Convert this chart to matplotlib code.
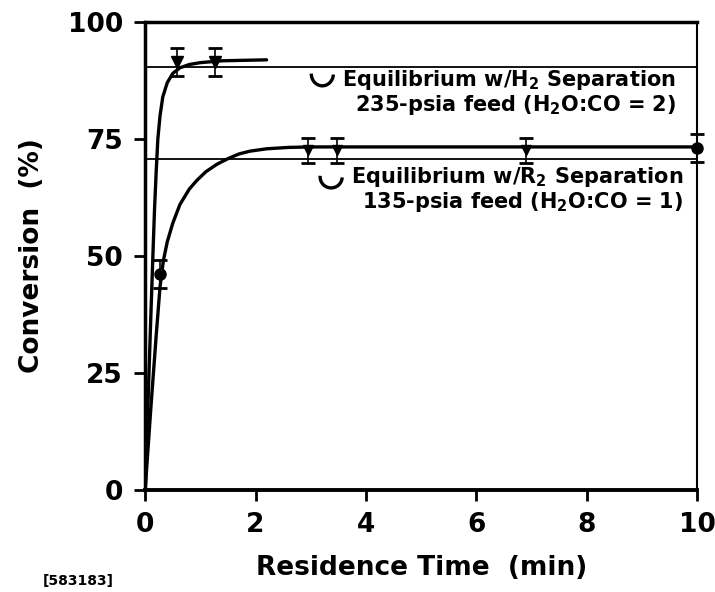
import numpy as np
import matplotlib.pyplot as plt
from matplotlib.patches import Arc

# fitted curves
t_235 = [0.0, 0.05, 0.1, 0.14, 0.17, 0.2, 0.23, 0.27, 0.32, 0.4, 0.5, 0.63, 0.8, 1.0, 1.4, 2.2]
x_235 = [0.0, 18.0, 36.0, 50.0, 60.0, 68.0, 75.0, 80.0, 84.0, 87.0, 89.0, 90.2, 90.9, 91.3, 91.7, 91.9]

t_135 = [0.0, 0.1, 0.2, 0.27, 0.33, 0.4, 0.5, 0.63, 0.8, 0.94, 1.1, 1.3, 1.5, 1.7, 1.9, 2.2, 2.6, 3.0, 10.0]
x_135 = [0.0, 17.0, 33.0, 43.5, 49.0, 53.0, 57.0, 61.0, 64.3, 66.2, 68.0, 69.6, 70.8, 71.8, 72.4, 72.9, 73.2, 73.3, 73.3]

# measured points
pt_235_t = [0.57, 1.27]
pt_235_x = [91.5, 91.5]
pt_235_err = [3.0, 3.0]

pt_135_t = [2.95, 3.47, 6.9]
pt_135_x = [72.6, 72.6, 72.6]
pt_135_err = [2.7, 2.7, 2.7]

circ_t = [0.27, 10.0]
circ_x = [46.2, 73.0]
circ_err = [3.0, 3.0]

eq_235 = 90.3
eq_135 = 70.7

fig = plt.figure(figsize=(7.15, 5.92), dpi=100)
ax = fig.add_axes([0.203, 0.172, 0.772, 0.791])

ax.axhline(eq_235, color='black', lw=1.3)
ax.axhline(eq_135, color='black', lw=1.3)

ax.plot(t_235, x_235, color='black', lw=2.4, solid_capstyle='round', solid_joinstyle='round')
ax.plot(t_135, x_135, color='black', lw=2.4, solid_capstyle='round', solid_joinstyle='round')

ax.errorbar(pt_235_t, pt_235_x, yerr=pt_235_err, fmt='v', color='black',
            ms=8, capsize=5, capthick=2, elinewidth=1.2)
ax.errorbar(pt_135_t, pt_135_x, yerr=pt_135_err, fmt='v', color='black',
            ms=7, capsize=5, capthick=2, elinewidth=1.2)
ax.errorbar(circ_t, circ_x, yerr=circ_err, fmt='o', color='black',
            ms=8, capsize=5, capthick=2, elinewidth=1.2, clip_on=False)

# hooks next to the equilibrium notes
ax.add_patch(Arc((3.21, 88.9), 0.40, 5.1, theta1=165, theta2=325, color='black', lw=2.4))
ax.add_patch(Arc((3.37, 66.9), 0.40, 4.7, theta1=130, theta2=330, color='black', lw=2.4))

fnt = dict(fontsize=15, fontweight='bold', family='DejaVu Sans', ha='right', va='center')
ax.text(9.62, 87.7, 'Equilibrium w/H$_\\mathbf{2}$ Separation', **fnt)
ax.text(9.62, 82.2, '235-psia feed (H$_\\mathbf{2}$O:CO = 2)', **fnt)
ax.text(9.75, 66.9, 'Equilibrium w/R$_\\mathbf{2}$ Separation', **fnt)
ax.text(9.75, 61.5, '135-psia feed (H$_\\mathbf{2}$O:CO = 1)', **fnt)

ax.set_xlim(0, 10)
ax.set_ylim(0, 100)
ax.set_xticks([0, 2, 4, 6, 8, 10])
ax.set_yticks([0, 25, 50, 75, 100])
ax.tick_params(direction='out', length=8, width=2, labelsize=19, pad=8,
               top=False, right=False)
for lab in ax.get_xticklabels() + ax.get_yticklabels():
    lab.set_fontweight('bold')
ax.spines['left'].set_linewidth(2.5)
ax.spines['bottom'].set_linewidth(2.8)
ax.spines['top'].set_linewidth(2.5)
ax.spines['right'].set_linewidth(1.5)

ax.set_xlabel('Residence Time  (min)', fontsize=19, fontweight='bold', labelpad=12)
ax.set_ylabel('Conversion  (%)', fontsize=19, fontweight='bold', labelpad=16)
fig.text(0.06, 0.019, '[583183]', fontsize=10, fontweight='bold', va='center')

fig.savefig('out.png', dpi=100)
